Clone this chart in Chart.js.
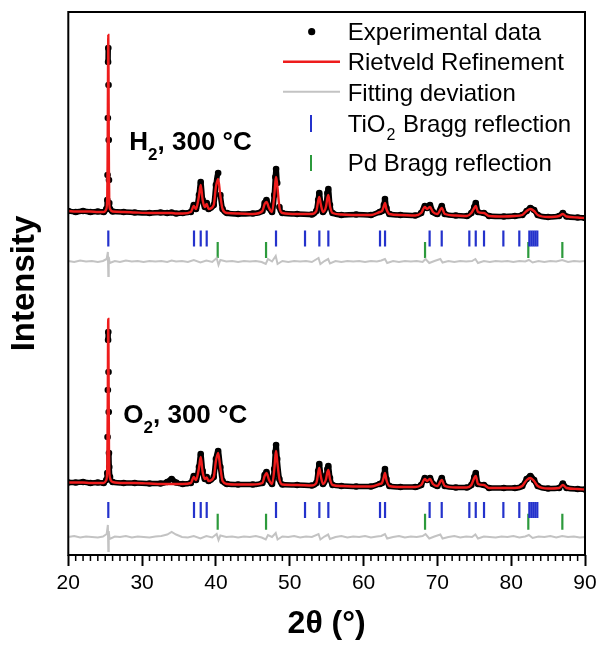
<!DOCTYPE html>
<html><head><meta charset="utf-8">
<script src="https://cdn.jsdelivr.net/npm/chart.js@4"></script>
<style>html,body{margin:0;padding:0;background:#fff}canvas{display:block}</style>
</head><body>
<canvas id="c" width="603" height="645"></canvas>
<script>
// ---------- DATA (arbitrary intensity units) ----------
const twoTheta = [20.0,21.0,22.0,23.0,24.0,24.8,25.15,25.28,25.32,25.36,25.39,25.42,25.45,25.48,25.51,25.55,25.65,26.0,27.5,29.0,31.0,32.5,33.4,34.0,34.6,35.5,36.6,37.0,37.3,37.7,37.94,38.2,38.5,38.75,39.0,39.7,40.0,40.3,40.6,40.9,41.5,43.0,45.0,46.3,46.6,46.85,47.2,47.6,47.9,48.05,48.15,48.3,48.6,49.0,51.0,53.0,53.6,53.85,54.0,54.2,54.5,54.9,55.1,55.23,55.45,55.8,57.0,59.0,61.0,62.2,62.5,62.75,62.9,63.1,63.5,65.0,67.0,67.8,68.3,68.6,69.0,69.4,70.0,70.6,71.0,72.5,74.0,74.6,75.0,75.2,75.5,76.3,77.0,79.0,80.5,81.5,82.1,82.6,83.1,83.6,85.0,86.5,87.0,87.5,89.0,90.0];

const h2Obs = [344,343,344,343,343.5,343,346,355,380,437,493,507,470,415,375,352,346,343.5,343,342.5,342,342.5,342,342.5,341.5,342,343,350,346,360,373,355,348,352,346,350,370,382,360,346,342,341,341.5,344,352,355,347,343,360,378,386,372,348,342,341,340.5,344,355,362,352,343,348,362,366,350,342,340,340.5,340,343,344,350,356,347,341,340,339.5,342,349,347,350,343,341,349,341,339.5,339,342,348,352,343,342,339,338.5,339,340,344,347,345,340,338,339,342,338.5,337.5,337];
const h2Calc = [344,343.5,343.5,343.5,343,343,346,360,390,450,500,520,480,425,380,352,346,343.5,343,342.5,342,342,342,342,341.5,341.5,343,349,346,359,370,355,348,351,346,350,368,376,359,346,342,341.5,341,344,351,353,347,343,359,373,378,370,348,342,341,341,344,354,358,351,343,348,357,360,349,342,340.5,340,340,343,344,349,352,346,341,340,339.5,342,348,346,348,343,341,347,341,339.5,339,342,347,349,343,342,339,338.5,339,340,344,346,344,340,338,339,341,338.5,337.5,337];

const o2Obs = [72.5,72.5,73,72,72.5,72,75,82,118,165,215,223,183,143,102,88,78,73,72,72,71.5,71.5,73,76,72.5,71,72,79,75,88,101,84,76,78,74,78,96,104,88,74,71,70.5,70.5,72,80,83,75,71,86,103,110,96,76,70.5,70,69.5,72,84,91,80,71,76,86,89,77,70,69,68.5,68.5,71,72,80,86,76,69,68,68,70,77,75,77,71,69,77,69,67.5,67.5,70,78,82,71,70,67,67,67,69,76,79,75,69,66.5,67,71.5,67,66,65.5];
const o2Calc = [72.5,72.5,72.5,72,72,72,75,88,125,175,225,236,195,150,108,85,77,73,72,72,71.5,71,71,71,71,71,72,78,75,87,98,83,76,77.5,74,78,94,102,87,74,71,70.5,70.5,72,79,82,75,71,85,99,104,94,76,70.5,70,69.5,72,82,87,79,71,75.5,83,85,76,70,69,68.5,68.5,71,72,78,82,75,69,68,68,70,76,74,76,71,69,75,69,67.5,67.5,70,77,79,71,70,67,67,67,69,75,77,74,69,66.5,67,70,67,66,65.5];

const devTheta = [20,20.8,21.6,22.4,23.2,24,24.7,25.2,25.36,25.42,25.48,25.6,26.3,27,27.8,28.6,29.4,30.2,31,31.8,32.6,33.4,34,34.6,35.4,36.2,37,37.9,38.7,39.5,40.1,40.35,40.6,41.4,42.2,43,43.8,44.6,45.4,46.2,46.75,47.05,47.6,48.1,48.35,49,49.8,50.6,51.4,52.2,53,53.9,54.15,54.7,55.2,55.45,56.2,57,57.8,58.6,59.4,60.2,61,61.8,62.4,62.9,63.2,64,64.8,65.6,66.4,67.2,68,68.4,68.9,69.6,70.4,70.7,71.5,72.3,73.1,73.9,74.7,75.15,75.5,76.3,77.1,77.9,78.7,79.5,80.3,81.1,81.9,82.4,82.9,83.7,84.5,85.3,86.1,86.9,87.7,88.5,89.3,90];
const h2Dev = [294,293,294.5,293.5,294,293,294,296,303,279,298,292,294,293,294.5,293.5,294,293,294,293.5,294,293,294.5,293.5,294,293,295,292.5,294.5,293,297,290,295,293.5,294,293,294,293.5,294,293,291,296,293.5,299,291,294,293,294,293.5,294,293,297,291,294,296,291.5,294,293,294,293.5,294,293,294,293.5,294.5,296,292,294,293,294,293.5,294,293,296,292,294,296,292.5,294,293,294,293.5,294,296,292,294,293,294,293.5,294,293,294,293.5,295,292.5,294,293,294,293.5,295,293,294,293.5,294];
const o2Dev = [18,19,17.5,18.5,18,17.5,18.5,21,30,4,24,16,18.5,18,19,17.5,18.5,18,17.5,18.5,19,20.5,23,20.5,18,17.5,19,16.5,19,17.5,21,15,19.5,18,18.5,17.5,18.5,18,19,17.5,15.5,20,18,22,15.5,18.5,18,19,17.5,18.5,18,21,15.5,18.5,20.5,16,18,19,17.5,18.5,18,19,17.5,18.5,19,21,16.5,18,19,17.5,18.5,18,19,21,16.5,18.5,20.5,16.5,18,19,17.5,18.5,18,20.5,16.5,18.5,18,17.5,18.5,18,19,17.5,18.5,20,17,18.5,18,19,17.5,19,18,18.5,17.5,18];

const tio2Bragg = [25.42,37.03,37.94,38.75,48.14,52.07,54.01,55.23,62.23,62.91,68.95,70.59,74.33,75.20,76.32,78.94,81.10,82.46,82.73,83.0,83.27,83.54];
const pdBragg = [40.24,46.79,68.33,82.32,86.93];

const xTicks = [20,30,40,50,60,70,80,90];

// levels of the Bragg tick rows (in the same intensity units)
const rowTiH2 = 316.5, rowPdH2 = 305, rowTiO2 = 45, rowPdO2 = 33.3;

// ---------- CHART ----------
const FONT = "'Liberation Sans', Arial, sans-serif";
const RED = '#ee1c1c', GRAY = '#c3c3c3', BLUE = '#2432cc', GREEN = '#2c9a3c';
const pts = (xs, ys) => xs.map((x, i) => ({x, y: ys[i]}));
const rowPts = (xs, y) => xs.map(x => ({x, y}));
const hideSteep = c => Math.abs(c.p1.parsed.y - c.p0.parsed.y) > 20 ? 'rgba(0,0,0,0)' : undefined;

const obsStyle = {showLine: true, borderColor: '#000', borderWidth: 5.5, pointRadius: 3.3, pointBackgroundColor: '#000', pointBorderWidth: 0, cubicInterpolationMode: 'monotone', segment: {borderColor: hideSteep}, order: 3};
const calcStyle = {showLine: true, borderColor: RED, borderWidth: 2.4, pointRadius: 0, cubicInterpolationMode: 'monotone', order: 1};
const devStyle = {showLine: true, borderColor: GRAY, borderWidth: 2, pointRadius: 0, order: 4};
const tickStyle = c => ({showLine: false, pointStyle: 'line', pointRadius: 8, pointRotation: 90, pointBorderColor: c, pointBorderWidth: 2.2, order: 5});

const decor = {
  id: 'decor',
  afterDraw(chart) {
    const {ctx, chartArea: a, scales: {x}} = chart;
    ctx.save();
    ctx.strokeStyle = '#000';
    ctx.lineWidth = 1.5;
    for (let v = x.min + 1; v < x.max; v++) {
      if (v % 10 === 0) continue;
      const px = x.getPixelForValue(v);
      ctx.beginPath(); ctx.moveTo(px, a.bottom); ctx.lineTo(px, a.bottom + 6); ctx.stroke();
    }
    ctx.lineWidth = 2;
    ctx.strokeRect(a.left, a.top, a.right - a.left, a.bottom - a.top);

    // legend
    const lx = 347.7;
    ctx.fillStyle = '#000';
    ctx.textBaseline = 'alphabetic';
    ctx.textAlign = 'left';
    ctx.font = `24px ${FONT}`;
    ctx.beginPath(); ctx.arc(311.7, 31.7, 3.6, 0, Math.PI * 2); ctx.fill();
    ctx.fillText('Experimental data', lx, 39.5);
    ctx.strokeStyle = RED; ctx.lineWidth = 2.4;
    ctx.beginPath(); ctx.moveTo(283, 61.7); ctx.lineTo(340, 61.7); ctx.stroke();
    ctx.fillText('Rietveld Refinement', lx, 70);
    ctx.strokeStyle = GRAY; ctx.lineWidth = 2;
    ctx.beginPath(); ctx.moveTo(283, 91.7); ctx.lineTo(340, 91.7); ctx.stroke();
    ctx.fillText('Fitting deviation', lx, 100.5);
    ctx.strokeStyle = BLUE; ctx.lineWidth = 2;
    ctx.beginPath(); ctx.moveTo(311, 115); ctx.lineTo(311, 132); ctx.stroke();
    let w = ctx.measureText('TiO').width;
    ctx.fillText('TiO', lx, 131.5);
    ctx.font = `16px ${FONT}`;
    ctx.fillText('2', lx + w + 1, 139.5);
    const w2 = ctx.measureText('2').width;
    ctx.font = `24px ${FONT}`;
    ctx.fillText(' Bragg reflection', lx + w + w2 + 2, 131.5);
    ctx.strokeStyle = GREEN;
    ctx.beginPath(); ctx.moveTo(311, 155); ctx.lineTo(311, 171); ctx.stroke();
    ctx.fillText('Pd Bragg reflection', lx, 170.5);

    // panel labels
    const label = (main, x0, y0) => {
      ctx.font = `bold 26px ${FONT}`;
      ctx.fillText(main, x0, y0);
      let ww = ctx.measureText(main).width;
      ctx.font = `bold 17px ${FONT}`;
      ctx.fillText('2', x0 + ww, y0 + 10);
      ww += ctx.measureText('2').width;
      ctx.font = `bold 26px ${FONT}`;
      ctx.fillText(', 300 \u00B0C', x0 + ww, y0);
    };
    label('H', 129.3, 150);
    label('O', 123.3, 423.3);
    ctx.restore();
  }
};

new Chart(document.getElementById('c'), {
  type: 'scatter',
  data: {
    datasets: [
      {label: 'H2 obs', data: pts(twoTheta, h2Obs), ...obsStyle},
      {label: 'H2 calc', data: pts(twoTheta, h2Calc), ...calcStyle},
      {label: 'H2 dev', data: pts(devTheta, h2Dev), ...devStyle},
      {label: 'H2 TiO2', data: rowPts(tio2Bragg, rowTiH2), ...tickStyle(BLUE)},
      {label: 'H2 Pd', data: rowPts(pdBragg, rowPdH2), ...tickStyle(GREEN)},
      {label: 'O2 obs', data: pts(twoTheta, o2Obs), ...obsStyle},
      {label: 'O2 calc', data: pts(twoTheta, o2Calc), ...calcStyle},
      {label: 'O2 dev', data: pts(devTheta, o2Dev), ...devStyle},
      {label: 'O2 TiO2', data: rowPts(tio2Bragg, rowTiO2), ...tickStyle(BLUE)},
      {label: 'O2 Pd', data: rowPts(pdBragg, rowPdO2), ...tickStyle(GREEN)}
    ]
  },
  options: {
    responsive: false,
    animation: false,
    devicePixelRatio: 1,
    events: [],
    layout: {padding: {top: 12, right: 18, bottom: 0, left: 0}},
    plugins: {legend: {display: false}, tooltip: {enabled: false}},
    scales: {
      x: {
        type: 'linear', min: 20, max: 90,
        afterFit: s => { s.height = 90; },
        afterBuildTicks: s => { s.ticks = xTicks.map(v => ({value: v})); },
        ticks: {color: '#000', font: {family: FONT, size: 21}, padding: 5, maxRotation: 0},
        grid: {drawOnChartArea: false, drawTicks: true, tickLength: 11, tickWidth: 2, tickColor: '#000'},
        border: {display: false},
        title: {display: true, text: '2\u03B8 (\u00B0)', color: '#000', font: {family: FONT, size: 32, weight: 'bold'}, padding: {top: 0, bottom: 2}}
      },
      y: {
        type: 'linear', min: 0, max: 543,
        afterFit: s => { s.width = 68.3; },
        ticks: {display: false},
        grid: {display: false},
        border: {display: false},
        title: {display: true, text: 'Intensity', color: '#000', font: {family: FONT, size: 33, weight: 'bold'}, padding: {top: 5, bottom: 0}}
      }
    }
  },
  plugins: [decor]
});
</script>
</body></html>
